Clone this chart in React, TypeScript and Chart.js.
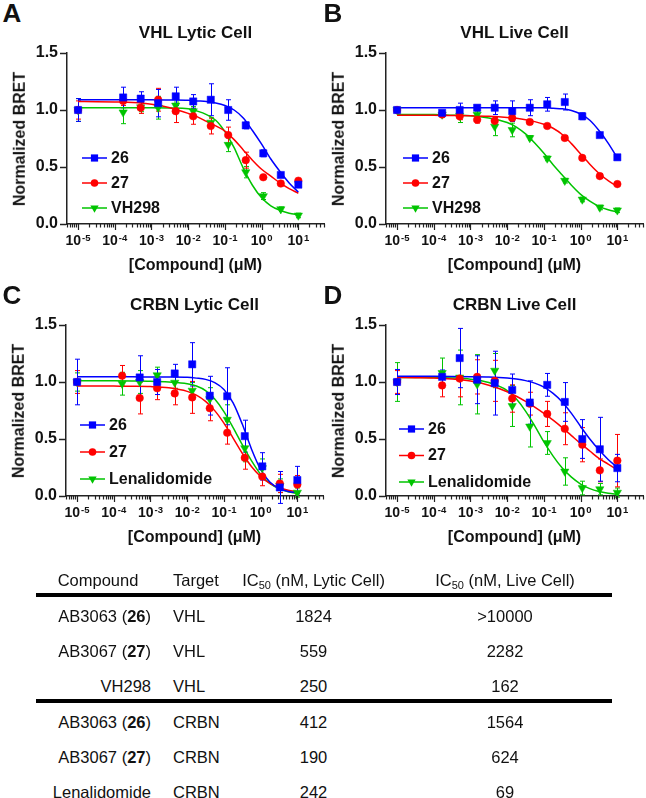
import React, { useEffect, useRef } from "react";
import { Chart, registerables } from "chart.js";
Chart.register(...registerables);

const FONT = "'Liberation Sans', Arial, Helvetica, sans-serif";

// ---------- DATA ----------
// tested concentrations (µM); 1e-5 = vehicle
const concentrations = [1e-5, 1.69e-4, 5.08e-4, 1.52e-3, 4.57e-3, 1.37e-2, 4.12e-2, 0.123, 0.37, 1.11, 3.33, 10];
// concentrations at which the fitted curves were read
const curveConcentrations = [1e-5, 3.16e-5, 1e-4, 3.16e-4, 1e-3, 3.16e-3, 1e-2, 1.78e-2, 3.16e-2, 5.62e-2, 0.1, 0.178, 0.316, 0.562, 1, 1.78, 3.16, 5.62, 10];

const xTickValues = [1e-5, 1e-4, 1e-3, 1e-2, 1e-1, 1, 10];
const xTickBase = "10";
const xTickExponents = ["-5", "-4", "-3", "-2", "-1", "0", "1"];
const yTickValues = [0, 0.5, 1.0, 1.5];

const vhlNames = ["26", "27", "VH298"];
const crbnNames = ["26", "27", "Lenalidomide"];

// A: VHL lytic
const vhlLytic26 = [1.0, 1.11, 1.1, 1.06, 1.12, 1.075, 1.09, 1.0, 0.865, 0.62, 0.43, 0.345];
const vhlLytic26Err = [0.1, 0.09, 0.06, 0.12, 0.08, 0.06, 0.14, 0.09, 0.03, 0.03, 0.02, 0.02];
const vhlLytic27 = [1.0, 1.08, 1.02, 1.09, 0.99, 0.945, 0.86, 0.78, 0.56, 0.41, 0.355, 0.38];
const vhlLytic27Err = [0.08, 0.04, 0.05, 0.1, 0.1, 0.07, 0.07, 0.07, 0.07, 0.02, 0.02, 0.02];
const vhlLyticVH298 = [1.0, 0.98, 1.025, 1.02, 1.04, 0.99, 0.89, 0.695, 0.455, 0.245, 0.13, 0.075];
const vhlLyticVH298Err = [0.1, 0.1, 0.04, 0.1, 0.03, 0.04, 0.04, 0.06, 0.05, 0.03, 0.02, 0.02];
const vhlLytic26Fit = [1.09, 1.09, 1.09, 1.09, 1.09, 1.088, 1.085, 1.08, 1.075, 1.062, 1.04, 1.0, 0.93, 0.82, 0.7, 0.57, 0.46, 0.36, 0.28];
const vhlLytic27Fit = [1.075, 1.073, 1.07, 1.065, 1.05, 1.02, 0.97, 0.94, 0.9, 0.86, 0.815, 0.74, 0.65, 0.56, 0.48, 0.42, 0.36, 0.31, 0.27];
const vhlLyticVH298Fit = [1.02, 1.02, 1.02, 1.02, 1.02, 1.018, 1.01, 0.99, 0.96, 0.91, 0.81, 0.67, 0.49, 0.34, 0.23, 0.16, 0.12, 0.095, 0.08];

// B: VHL live
const vhlLive26 = [1.0, 0.975, 1.0, 1.02, 1.02, 0.99, 1.02, 1.05, 1.07, 0.945, 0.78, 0.585];
const vhlLive26Err = [0.01, 0.02, 0.06, 0.02, 0.06, 0.09, 0.07, 0.06, 0.07, 0.03, 0.01, 0.01];
const vhlLive27 = [1.0, 0.96, 0.945, 0.915, 0.905, 0.93, 0.895, 0.86, 0.755, 0.58, 0.42, 0.35];
const vhlLive27Err = [0.01, 0.02, 0.03, 0.03, 0.03, 0.03, 0.02, 0.02, 0.02, 0.02, 0.02, 0.02];
const vhlLiveVH298 = [1.0, 0.96, 0.95, 0.96, 0.855, 0.825, 0.755, 0.575, 0.38, 0.215, 0.145, 0.12];
const vhlLiveVH298Err = [0.01, 0.02, 0.06, 0.03, 0.08, 0.06, 0.02, 0.02, 0.02, 0.02, 0.02, 0.02];
const vhlLive26Fit = [1.02, 1.02, 1.02, 1.02, 1.02, 1.02, 1.02, 1.02, 1.02, 1.02, 1.02, 1.015, 1.01, 0.995, 0.965, 0.91, 0.82, 0.71, 0.58];
const vhlLive27Fit = [0.955, 0.955, 0.953, 0.952, 0.95, 0.945, 0.935, 0.927, 0.915, 0.898, 0.875, 0.84, 0.785, 0.705, 0.615, 0.525, 0.445, 0.38, 0.33];
const vhlLiveVH298Fit = [0.96, 0.96, 0.96, 0.955, 0.95, 0.93, 0.89, 0.85, 0.79, 0.71, 0.62, 0.52, 0.43, 0.34, 0.26, 0.2, 0.155, 0.125, 0.105];

// C: CRBN lytic
const crbnLytic26 = [1.0, null, 1.04, 1.0, 1.075, 1.155, 0.88, 0.875, 0.525, 0.26, 0.075, 0.14];
const crbnLytic26Err = [0.2, null, 0.19, 0.11, 0.08, 0.19, 0.17, 0.25, 0.14, 0.12, 0.14, 0.12];
const crbnLytic27 = [1.0, 1.055, 0.86, 0.945, 0.9, 0.865, 0.77, 0.555, 0.335, 0.17, 0.11, 0.1];
const crbnLytic27Err = [0.1, 0.09, 0.14, 0.1, 0.1, 0.14, 0.11, 0.1, 0.1, 0.08, 0.08, 0.08];
const crbnLyticLen = [1.0, 0.985, 1.0, 1.06, 0.995, 0.925, 0.85, 0.67, 0.42, 0.245, 0.09, 0.03];
const crbnLyticLenErr = [0.08, 0.1, 0.1, 0.07, 0.05, 0.07, 0.1, 0.13, 0.12, 0.08, 0.06, 0.04];
const crbnLytic26Fit = [1.045, 1.045, 1.045, 1.045, 1.044, 1.043, 1.041, 1.034, 1.023, 0.995, 0.935, 0.817, 0.631, 0.413, 0.233, 0.122, 0.066, 0.04, 0.029];
const crbnLytic27Fit = [0.965, 0.965, 0.964, 0.963, 0.96, 0.949, 0.918, 0.885, 0.83, 0.749, 0.639, 0.508, 0.375, 0.259, 0.171, 0.11, 0.074, 0.05, 0.038];
const crbnLyticLenFit = [1.01, 1.01, 1.01, 1.009, 1.007, 1.0, 0.985, 0.965, 0.925, 0.85, 0.74, 0.6, 0.45, 0.31, 0.19, 0.11, 0.065, 0.038, 0.022];

// D: CRBN live
const crbnLive26 = [1.0, 1.045, 1.21, 1.02, 0.99, 0.93, 0.82, 0.975, 0.825, 0.5, 0.41, 0.245];
const crbnLive26Err = [0.11, 0.06, 0.26, 0.21, 0.28, 0.14, 0.19, 0.1, 0.17, 0.17, 0.28, 0.12];
const crbnLive27 = [1.0, 0.97, 1.03, 1.045, 1.01, 0.855, 0.81, 0.72, 0.59, 0.45, 0.225, 0.31];
const crbnLive27Err = [0.1, 0.1, 0.16, 0.15, 0.18, 0.12, 0.1, 0.11, 0.14, 0.15, 0.1, 0.23];
const crbnLiveLen = [1.0, 1.08, 1.04, 0.98, 1.1, 0.79, 0.61, 0.465, 0.215, 0.07, 0.06, 0.03];
const crbnLiveLenErr = [0.17, 0.13, 0.24, 0.26, 0.15, 0.18, 0.18, 0.1, 0.12, 0.06, 0.05, 0.04];
const crbnLive26Fit = [1.05, 1.05, 1.05, 1.049, 1.047, 1.044, 1.035, 1.026, 1.012, 0.99, 0.955, 0.9, 0.825, 0.725, 0.61, 0.5, 0.405, 0.32, 0.25];
const crbnLive27Fit = [1.04, 1.038, 1.035, 1.026, 1.008, 0.972, 0.915, 0.875, 0.83, 0.78, 0.725, 0.665, 0.6, 0.53, 0.46, 0.395, 0.33, 0.28, 0.23];
const crbnLiveLenFit = [1.04, 1.04, 1.04, 1.036, 1.025, 0.995, 0.925, 0.85, 0.745, 0.615, 0.475, 0.35, 0.245, 0.165, 0.105, 0.065, 0.04, 0.025, 0.015];

// Table
const tableHeaders = ["Compound", "Target", "(nM, Lytic Cell)", "(nM, Live Cell)"];
const tableCompounds = ["AB3063", "AB3067", "VH298", "AB3063", "AB3067", "Lenalidomide"];
const tableCompoundIds = ["26", "27", "", "26", "27", ""];
const tableTargets = ["VHL", "VHL", "VHL", "CRBN", "CRBN", "CRBN"];
const ic50Lytic = ["1824", "559", "250", "412", "190", "242"];
const ic50Live = [">10000", "2282", "162", "1564", "624", "69"];

// ---------- STYLE / LAYOUT ----------
const COLORS = ["#0000FF", "#FF0000", "#00C400"];
const X_MIN = 5e-6;
const X_MAX = 50;

type Series = { name: string; values: (number | null)[]; errors: (number | null)[]; fit: number[] };
type PanelDef = {
  letter: string; title: string; L: number; T: number; R: number; B: number;
  legendX: number; legendTop: number; legendStep: number; series: Series[];
  letterPos: [number, number];
};

const panels: PanelDef[] = [
  {
    letter: "A", title: "VHL Lytic Cell", L: 67, T: 53, R: 324, B: 224, legendX: 15, legendTop: 105, legendStep: 25, letterPos: [12, 14],
    series: [
      { name: vhlNames[0], values: vhlLytic26, errors: vhlLytic26Err, fit: vhlLytic26Fit },
      { name: vhlNames[1], values: vhlLytic27, errors: vhlLytic27Err, fit: vhlLytic27Fit },
      { name: vhlNames[2], values: vhlLyticVH298, errors: vhlLyticVH298Err, fit: vhlLyticVH298Fit },
    ],
  },
  {
    letter: "B", title: "VHL Live Cell", L: 386, T: 53, R: 643, B: 224, legendX: 17, legendTop: 105, legendStep: 25, letterPos: [333, 14],
    series: [
      { name: vhlNames[0], values: vhlLive26, errors: vhlLive26Err, fit: vhlLive26Fit },
      { name: vhlNames[1], values: vhlLive27, errors: vhlLive27Err, fit: vhlLive27Fit },
      { name: vhlNames[2], values: vhlLiveVH298, errors: vhlLiveVH298Err, fit: vhlLiveVH298Fit },
    ],
  },
  {
    letter: "C", title: "CRBN Lytic Cell", L: 66, T: 325, R: 323, B: 496, legendX: 14, legendTop: 100, legendStep: 27, letterPos: [12, 296],
    series: [
      { name: crbnNames[0], values: crbnLytic26, errors: crbnLytic26Err, fit: crbnLytic26Fit },
      { name: crbnNames[1], values: crbnLytic27, errors: crbnLytic27Err, fit: crbnLytic27Fit },
      { name: crbnNames[2], values: crbnLyticLen, errors: crbnLyticLenErr, fit: crbnLyticLenFit },
    ],
  },
  {
    letter: "D", title: "CRBN Live Cell", L: 386, T: 325, R: 643, B: 496, legendX: 13, legendTop: 104, legendStep: 26.5, letterPos: [333, 296],
    series: [
      { name: crbnNames[0], values: crbnLive26, errors: crbnLive26Err, fit: crbnLive26Fit },
      { name: crbnNames[1], values: crbnLive27, errors: crbnLive27Err, fit: crbnLive27Fit },
      { name: crbnNames[2], values: crbnLiveLen, errors: crbnLiveLenErr, fit: crbnLiveLenFit },
    ],
  },
];

const PAD_LEFT = 50, PAD_TOP = 14, PAD_BOTTOM = 40, PAD_RIGHT = 12;

function drawMarker(ctx: CanvasRenderingContext2D, kind: number, cx: number, cy: number) {
  ctx.beginPath();
  if (kind === 0) {
    ctx.rect(cx - 3.6, cy - 3.6, 7.2, 7.2);
  } else if (kind === 1) {
    ctx.arc(cx, cy, 3.8, 0, Math.PI * 2);
  } else {
    const r = 4.8;
    ctx.moveTo(cx, cy + r);
    ctx.lineTo(cx - r * 0.866, cy - r * 0.5);
    ctx.lineTo(cx + r * 0.866, cy - r * 0.5);
    ctx.closePath();
  }
  ctx.fill();
}

function Panel({ def }: { def: PanelDef }) {
  const ref = useRef<HTMLCanvasElement>(null);
  const w = def.R - def.L + PAD_LEFT + PAD_RIGHT;
  const h = def.B - def.T + PAD_TOP + PAD_BOTTOM;

  useEffect(() => {
    const pointStyles = ["rect", "circle", "triangle"];
    const pointRadii = [5.1, 3.8, 4.8];
    const datasets: any[] = [];
    def.series.forEach((s, i) => {
      datasets.push({
        label: s.name,
        data: concentrations.map((c, j) => ({ x: c, y: s.values[j] })),
        errors: s.errors,
        showLine: false,
        pointStyle: pointStyles[i],
        pointRadius: pointRadii[i],
        pointRotation: i === 2 ? 180 : 0,
        backgroundColor: COLORS[i],
        borderColor: COLORS[i],
        pointBorderWidth: 0.5,
        order: i,
        clip: false,
      });
    });
    def.series.forEach((s, i) => {
      datasets.push({
        label: s.name + " fit",
        data: curveConcentrations.map((c, j) => ({ x: c, y: s.fit[j] })),
        showLine: true,
        pointRadius: 0,
        borderColor: COLORS[i],
        borderWidth: 1.5,
        cubicInterpolationMode: "monotone",
        fill: false,
        order: 3 + i,
        clip: false,
      });
    });

    const errorBars = {
      id: "errorBars",
      beforeDatasetsDraw(chart: any) {
        const { ctx, scales } = chart;
        const xs = scales.x, ys = scales.y;
        const ds = chart.data.datasets;
        ctx.save();
        for (let d = ds.length - 1; d >= 0; d--) {
          const set = ds[d];
          if (!set.errors) continue;
          ctx.strokeStyle = set.borderColor;
          ctx.lineWidth = 1;
          set.data.forEach((p: any, i: number) => {
            const e = set.errors[i];
            if (p.y == null || e == null) return;
            const px = Math.round(xs.getPixelForValue(p.x)) + 0.5;
            const yt = ys.getPixelForValue(p.y + e);
            const yb = ys.getPixelForValue(p.y - e);
            ctx.beginPath();
            ctx.moveTo(px, yt); ctx.lineTo(px, yb);
            ctx.moveTo(px - 2.5, yt); ctx.lineTo(px + 2.5, yt);
            ctx.moveTo(px - 2.5, yb); ctx.lineTo(px + 2.5, yb);
            ctx.stroke();
          });
        }
        ctx.restore();
      },
    };

    const xAxisDeco = {
      id: "xAxisDeco",
      afterDraw(chart: any) {
        const { ctx, chartArea } = chart;
        const xs = chart.scales.x;
        ctx.save();
        ctx.strokeStyle = "#222";
        ctx.lineWidth = 1.2;
        for (let e = -6; e <= 2; e++) {
          for (let m = 1; m <= 9; m++) {
            const v = m * Math.pow(10, e);
            if (v < X_MIN * 0.999 || v > X_MAX * 1.001) continue;
            const px = Math.round(xs.getPixelForValue(v)) + 0.5;
            const len = m === 1 ? 6 : 3.5;
            ctx.beginPath();
            ctx.moveTo(px, chartArea.bottom);
            ctx.lineTo(px, chartArea.bottom + len);
            ctx.stroke();
          }
        }
        ctx.fillStyle = "#111";
        ctx.textBaseline = "alphabetic";
        ctx.textAlign = "left";
        xTickValues.forEach((v, i) => {
          const px = xs.getPixelForValue(v);
          ctx.font = `bold 14px ${FONT}`;
          const w1 = ctx.measureText(xTickBase).width;
          ctx.font = `bold 9.5px ${FONT}`;
          const w2 = ctx.measureText(xTickExponents[i]).width;
          const start = px - (w1 + w2 + 1) / 2;
          ctx.font = `bold 14px ${FONT}`;
          ctx.fillText(xTickBase, start, chartArea.bottom + 21);
          ctx.font = `bold 9.5px ${FONT}`;
          ctx.fillText(xTickExponents[i], start + w1 + 1, chartArea.bottom + 16.5);
        });
        // legend
        def.series.forEach((s, i) => {
          const y = chartArea.top + def.legendTop + i * def.legendStep;
          const x0 = chartArea.left + def.legendX;
          ctx.strokeStyle = COLORS[i];
          ctx.lineWidth = 1.5;
          ctx.beginPath();
          ctx.moveTo(x0, y); ctx.lineTo(x0 + 25, y);
          ctx.stroke();
          ctx.fillStyle = COLORS[i];
          drawMarker(ctx, i, x0 + 12.5, y);
          ctx.fillStyle = "#111";
          ctx.font = `bold 16px ${FONT}`;
          ctx.textBaseline = "middle";
          ctx.fillText(s.name, x0 + 29, y + 0.5);
        });
        ctx.restore();
      },
    };

    const chart = new Chart(ref.current as HTMLCanvasElement, {
      type: "line",
      data: { datasets },
      options: {
        animation: false,
        responsive: false,
        events: [],
        layout: { padding: { left: 0, top: PAD_TOP, right: PAD_RIGHT, bottom: 0 } },
        plugins: { legend: { display: false }, title: { display: false }, tooltip: { enabled: false } },
        scales: {
          x: {
            type: "logarithmic",
            min: X_MIN,
            max: X_MAX,
            afterFit: (s: any) => { s.height = PAD_BOTTOM; },
            ticks: { display: false },
            grid: { display: false },
            border: { display: true, color: "#222", width: 1.5 },
          },
          y: {
            type: "linear",
            min: 0,
            max: 1.5,
            afterBuildTicks: (s: any) => { s.ticks = yTickValues.map((v) => ({ value: v })); },
            afterFit: (s: any) => { s.width = PAD_LEFT; },
            ticks: {
              font: { family: FONT, size: 16, weight: "bold" },
              color: "#111",
              padding: 2,
              callback: (v: any) => Number(v).toFixed(1),
            },
            grid: { display: true, drawOnChartArea: false, drawTicks: true, tickLength: 7, tickColor: "#222", tickWidth: 1.5, color: "rgba(0,0,0,0)" },
            border: { display: true, color: "#222", width: 1.5 },
          },
        },
      } as any,
      plugins: [errorBars, xAxisDeco],
    });
    return () => chart.destroy();
  }, []);

  const cx = (def.L + def.R) / 2;
  const cy = (def.T + def.B) / 2;
  const abs = (x: number, y: number, extra: any = {}): React.CSSProperties => ({
    position: "absolute", left: x, top: y, transform: "translate(-50%, -50%)", whiteSpace: "nowrap", lineHeight: 1.15, ...extra,
  });
  return (
    <>
      <canvas ref={ref} width={w} height={h} style={{ position: "absolute", left: def.L - PAD_LEFT, top: def.T - PAD_TOP, width: w, height: h }} />
      <div style={abs(def.letterPos[0], def.letterPos[1], { fontSize: 26, fontWeight: "bold" })}>{def.letter}</div>
      <div style={abs(cx, def.T - 20, { fontSize: 17, fontWeight: "bold" })}>{def.title}</div>
      <div style={abs(def.L - 47.5, cy, { fontSize: 16, fontWeight: "bold", transform: "translate(-50%, -50%) rotate(-90deg)" })}>Normalized BRET</div>
      <div style={abs(cx, def.B + 41, { fontSize: 16, fontWeight: "bold" })}>[Compound] (μM)</div>
    </>
  );
}

function Table() {
  const FS = 16.5;
  const headerY = 580;
  const rowYs = [616, 651, 686, 722, 757, 792];
  const lineTops = [593, 699];
  const colCompoundRight = 151;
  const colTargetLeft = 173;
  const colLytic = 313.5;
  const colLive = 505;
  const base = (x: number, y: number, tx: string): React.CSSProperties => ({
    position: "absolute", left: x, top: y, transform: `translate(${tx}, -50%)`, whiteSpace: "nowrap", lineHeight: 1.15, fontSize: FS,
  });
  const sub = <sub style={{ fontSize: 11, verticalAlign: "-3px", lineHeight: 0 }}>50</sub>;
  return (
    <>
      <div style={base(98, headerY, "-50%")}>{tableHeaders[0]}</div>
      <div style={base(colTargetLeft, headerY, "0")}>{tableHeaders[1]}</div>
      <div style={base(colLytic, headerY, "-50%")}>IC{sub} {tableHeaders[2]}</div>
      <div style={base(colLive, headerY, "-50%")}>IC{sub} {tableHeaders[3]}</div>
      {lineTops.map((t, i) => (
        <div key={"l" + i} style={{ position: "absolute", left: 36, top: t, width: 576, height: 4, background: "#000" }} />
      ))}
      {tableCompounds.map((c, i) => (
        <React.Fragment key={i}>
          <div style={base(colCompoundRight, rowYs[i], "-100%")}>
            {c}
            {tableCompoundIds[i] ? <> (<b>{tableCompoundIds[i]}</b>)</> : null}
          </div>
          <div style={base(colTargetLeft, rowYs[i], "0")}>{tableTargets[i]}</div>
          <div style={base(colLytic, rowYs[i], "-50%")}>{ic50Lytic[i]}</div>
          <div style={base(colLive, rowYs[i], "-50%")}>{ic50Live[i]}</div>
        </React.Fragment>
      ))}
    </>
  );
}

export default function App() {
  return (
    <div style={{ position: "absolute", left: 0, top: 0, width: 646, height: 798, overflow: "hidden", background: "#fff", fontFamily: FONT, color: "#111" }}>
      {panels.map((p) => (
        <Panel key={p.letter} def={p} />
      ))}
      <Table />
    </div>
  );
}
